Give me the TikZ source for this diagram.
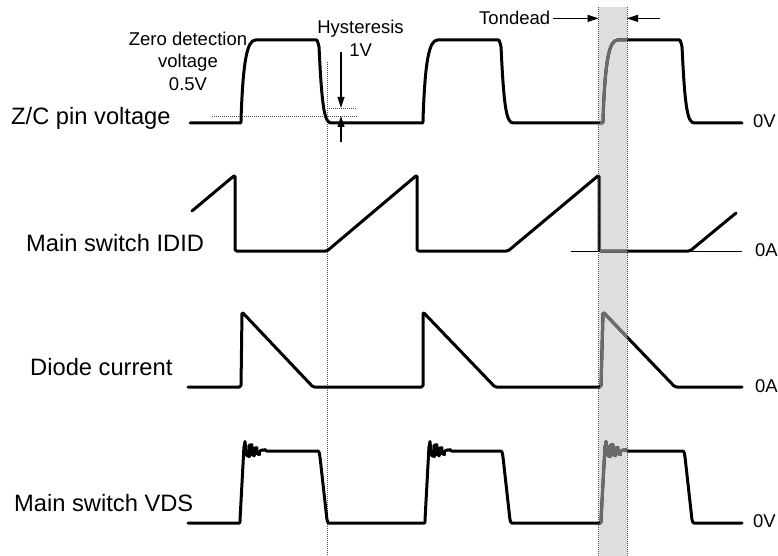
\documentclass[tikz,border=0pt]{standalone}
\usepackage{fontspec}
\setmainfont{Liberation Sans}
\usetikzlibrary{arrows.meta}

\tikzset{
  trace/.style={line width=3pt, line join=round, line cap=round, rounded corners=1.5pt},
  bandtrace/.style={draw=black!58},
  guide/.style={line width=0.8pt, black!70, dash pattern=on 1pt off 1pt},
  zeroline/.style={line width=0.9pt},
  pointer/.style={line width=1.1pt, -{Triangle[length=11pt,width=7pt]}},
  biglabel/.style={font=\fontsize{23.7}{28}\selectfont, inner sep=0pt, anchor=base west},
  smalllabel/.style={font=\fontsize{18.5}{22}\selectfont, inner sep=0pt, anchor=base},
  unitlabel/.style={font=\fontsize{18.5}{22}\selectfont, inner sep=0pt, anchor=base west},
}

% one pulse of each waveform, #1 = rising edge, #2 = falling edge
\newcommand\zcpulse[2]{-- (#1-2,123) .. controls (#1,123) .. (#1,120) .. controls (#1+2,62) and (#1+6,40) .. (#1+16,40) -- (#2-2,40) .. controls (#2,40) .. (#2+2,46) .. controls (#2+5,112) and (#2+8,123) .. (#2+16,123)}
\newcommand\vdspulse[2]{-- (#1-2,523) .. controls (#1,523) .. (#1,520) -- (#1+4,446) -- plot[smooth, tension=0.7] coordinates {(#1+5,443) (#1+8,456) (#1+10.5,445) (#1+13,455) (#1+15.5,448) (#1+18,454) (#1+21,450.5) (#1+25,451)} -- (#2,451) .. controls (#2+5,451) .. (#2+6,457) -- (#2+13,520) .. controls (#2+14,523) .. (#2+16,523)}

% the four waveforms
\newcommand\zcwave{(190,123) \zcpulse{241}{317} \zcpulse{423}{499} \zcpulse{603}{680} -- (742,123)}
\newcommand\idwave{(192,211) -- (235,175) -- (235,251) -- (327,251) -- (417,175) -- (417,251) -- (508,251) -- (599,175) -- (599,251) -- (690,251) -- (736,213)}
\newcommand\diodewave{(188,387) -- (241,387) -- (242,312) -- (313,387) -- (423,387) -- (423,312) -- (495,387) -- (601,387) -- (603,312) -- (675,387) -- (742,387)}
\newcommand\vdswave{(188,523) \vdspulse{240}{314} \vdspulse{425}{497} \vdspulse{601}{679} -- (742,523)}

\begin{document}
\begin{tikzpicture}[x=1pt, y=-1pt]
    \useasboundingbox (0,0) rectangle (778,556);

    % dead time band
    \coordinate (bandL) at (598.5,7);
    \coordinate (bandR) at (627,7);
    \fill[black!13] (bandL) rectangle (627,556);

    % zero detection and hysteresis guides
    \coordinate (zdL) at (212,116);
    \coordinate (zdR) at (357,116);
    \coordinate (hyL) at (327,108);
    \coordinate (hyR) at (357,108);
    \coordinate (vTop) at (327,62);
    \coordinate (vBot) at (327,556);
    \draw[guide] (zdL) -- (zdR);
    \draw[guide] (hyL) -- (hyR);
    \draw[guide] (vTop) -- (vBot);

    % 0A reference of the switch current
    \coordinate (refL) at (571,251);
    \coordinate (refR) at (742,251);
    \draw[zeroline] (refL) -- (refR);

    % waveforms
    \draw[trace] \zcwave;
    \draw[trace] \idwave;
    \draw[trace] \diodewave;
    \draw[trace] \vdswave;

    % waveforms seen through the band
    \begin{scope}
        \clip (599.8,7) rectangle (627,556);
        \draw[trace, bandtrace] \zcwave;
        \draw[trace, bandtrace] \idwave;
        \draw[trace, bandtrace] \diodewave;
        \draw[trace, bandtrace] \vdswave;
    \end{scope}
    \draw[guide] (bandL) -- (598.5,556);
    \draw[guide] (bandR) -- (627,556);

    % row labels
    \node (zcLabel) [biglabel] at (11,124.5) {Z/C pin voltage};
    \node (idLabel) [biglabel] at (26,251.5) {Main switch IDID};
    \node (diodeLabel) [biglabel] at (30,375.7) {Diode current};
    \node (vdsLabel) [biglabel] at (14,511.7) {Main switch VDS};

    \node (zcUnit) [unitlabel] at (753,128) {0V};
    \node (idUnit) [unitlabel] at (755,256.7) {0A};
    \node (diodeUnit) [unitlabel] at (755,392) {0A};
    \node (vdsUnit) [unitlabel] at (753,527.5) {0V};

    % zero detection note
    \node (zdText1) [smalllabel] at (188,46) {Zero detection};
    \node (zdText2) [smalllabel] at (188,68) {voltage};
    \node (zdText3) [smalllabel] at (188,90.7) {0.5V};

    % hysteresis
    \node (hyText1) [smalllabel] at (360.5,33.3) {Hysteresis};
    \node (hyText2) [smalllabel] at (360.7,56.7) {1V};
    \coordinate (hyA) at (341,52);
    \coordinate (hyTipA) at (341,108);
    \coordinate (hyB) at (341,142);
    \coordinate (hyTipB) at (341,116);
    \draw[pointer] (hyA) -- (hyTipA);
    \draw[pointer] (hyB) -- (hyTipB);

    % dead time
    \node (tondead) [smalllabel, anchor=base west] at (479,25) {Tondead};
    \coordinate (tdR) at (660,0 |- tondead.east);
    \draw[pointer, shorten <=3pt] (tondead.east) -- (tondead.east -| bandL);
    \draw[pointer] (tdR) -- (tdR -| bandR);
\end{tikzpicture}
\end{document}
